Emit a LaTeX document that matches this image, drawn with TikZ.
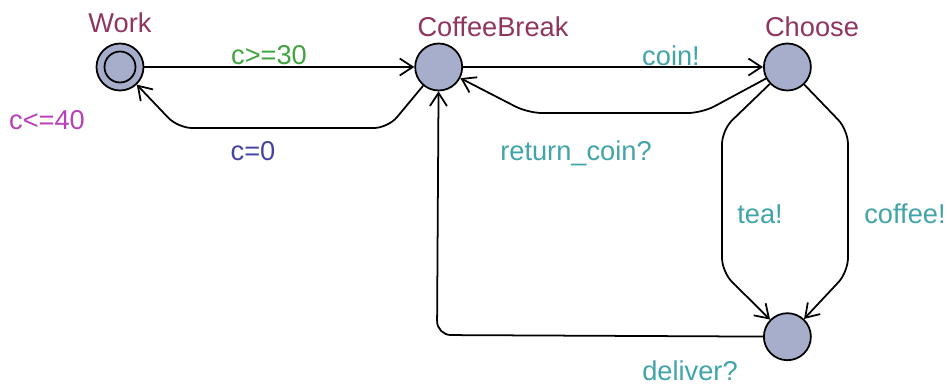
\documentclass[tikz,border=0pt]{standalone}
\usepackage{fontspec}
\setmainfont{Liberation Sans}
\usepackage{xcolor}
\usetikzlibrary{arrows.meta, positioning}

\definecolor{locfill}{RGB}{166,174,204}
\definecolor{locname}{RGB}{144,52,96}
\definecolor{invcol}{RGB}{184,64,184}
\definecolor{guardcol}{RGB}{64,164,64}
\definecolor{synccol}{RGB}{64,164,168}
\definecolor{assigncol}{RGB}{68,68,164}

\tikzstyle{trans} = [line width=1pt, ->, >={Straight Barb[length=2.6mm, width=3.4mm]}, rounded corners=8pt]

\begin{document}
\begin{tikzpicture}[
    x=0.02cm, y=-0.02cm,
    every node/.style={font=\fontsize{15.5}{18}\selectfont},
    loc/.style={circle, draw=black, line width=1pt, fill=locfill, minimum size=0.94cm, inner sep=0pt},
    init/.style={loc, path picture={\draw[line width=1pt] (path picture bounding box.center) circle (0.31cm);}},
    lname/.style={text=locname, anchor=base},
    lbl/.style={anchor=base}
]
    \useasboundingbox (0,0) rectangle (947,386);

    % Locations
    \node[init] (work) at (120,67) {};
    \node[loc, right=5.4cm of work] (coffeebreak) {};
    \node[loc, right=6cm of coffeebreak] (choose) {};
    \node[loc, below=4.42cm of choose] (deliver) {};

    % Names and invariant
    \node[lname] at (120,32) {Work};
    \node[lname] at (493,36) {CoffeeBreak};
    \node[lname] at (812,36) {Choose};
    \node[lbl, text=invcol] at (47,129) {c<=40};

    % Transitions
    \draw[trans] (work) -- (coffeebreak);
    \draw[trans] (coffeebreak) -- (388,128) -- (178,128) -- (work);
    \draw[trans] (coffeebreak) -- (choose);
    \draw[trans] (choose) -- (702,113) -- (528,113) -- (coffeebreak);
    \draw[trans] (choose) -- (722,130) -- (722,272) -- (deliver);
    \draw[trans] (choose) -- (848,130) -- (848,272) -- (deliver);
    \draw[trans] (deliver) -- (437,335) -- (coffeebreak);

    % Guards, syncs and updates
    \node[lbl, text=guardcol] at (269,64) {c>=30};
    \node[lbl, text=assigncol] at (253,160) {c=0};
    \node[lbl, text=synccol] at (671,65) {coin!};
    \node[lbl, text=synccol] at (576,160) {return\_coin?};
    \node[lbl, text=synccol] at (760,223) {tea!};
    \node[lbl, text=synccol] at (905,223) {coffee!};
    \node[lbl, text=synccol] at (690,380) {deliver?};
\end{tikzpicture}
\end{document}
